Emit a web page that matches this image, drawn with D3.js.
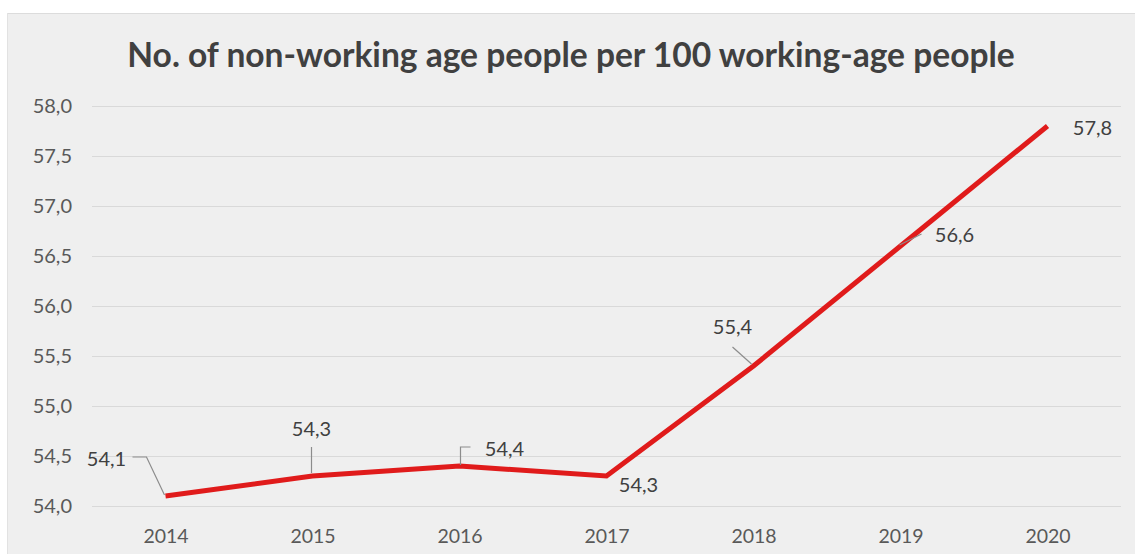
<!DOCTYPE html>
<html>
<head>
<meta charset="utf-8">
<script src="https://cdn.jsdelivr.net/npm/d3@7"></script>
<style>
  html, body { margin: 0; padding: 0; background: #ffffff; }
  svg { display: block; }
</style>
</head>
<body>
<svg id="chart" width="1135" height="554"></svg>
<script>
// Dependency ratio by year
const years = ["2014", "2015", "2016", "2017", "2018", "2019", "2020"];
const values = [54.1, 54.3, 54.4, 54.3, 55.4, 56.6, 57.8];
const yTicks = [54.0, 54.5, 55.0, 55.5, 56.0, 56.5, 57.0, 57.5, 58.0];
const titleText = "No. of non-working age people per 100 working-age people";

// label placement relative to each point: text offset and leader-line path
const labelLayout = [
  { dx: -59, dy: -37, leader: [[-1, -1], [-19, -39], [-33, -39]] },
  { dx: -1,  dy: -47, leader: [[-1, -3], [-1, -29]] },
  { dx: 45,  dy: -17, leader: [[1, -1], [1, -19], [11, -19]] },
  { dx: 32,  dy: 9,   leader: null },
  { dx: -21, dy: -39, leader: [[-2, -2], [-21, -19]] },
  { dx: 54,  dy: -11, leader: [[-1, -1], [21, -12]] },
  { dx: 45,  dy: 2,   leader: null }
];

const svg = d3.select("#chart");
const W = 1135, H = 554;
const font = "Lato, 'Open Sans', sans-serif";

const comma = d3.formatLocale({ decimal: ",", thousands: " ", grouping: [3], currency: ["", ""] });
const fmt = comma.format(".1f");

// chart panel
svg.append("rect").attr("x", 7).attr("y", 13).attr("width", W - 7).attr("height", H - 13)
  .attr("fill", "#efefef");
svg.append("line").attr("x1", 7).attr("x2", W).attr("y1", 13.5).attr("y2", 13.5)
  .attr("stroke", "#dcdcdc").attr("stroke-width", 1);
svg.append("line").attr("x1", 7.5).attr("x2", 7.5).attr("y1", 13).attr("y2", H)
  .attr("stroke", "#e2e2e2").attr("stroke-width", 1);

const x = d3.scalePoint().domain(years).range([92, 1121]).padding(0.5);
const y = d3.scaleLinear().domain([54, 58]).range([506, 106]);

// gridlines + y axis labels
const yAxis = d3.axisLeft(y).tickValues(yTicks).tickSize(-(1121 - 92)).tickFormat(fmt);
const gy = svg.append("g").attr("transform", "translate(92,0)").call(yAxis);
gy.select(".domain").remove();
gy.selectAll(".tick line").attr("stroke", "#d9d9d9").attr("stroke-width", 1);
gy.selectAll(".tick text").attr("fill", "#595959").attr("font-family", font)
  .attr("font-size", 20).attr("x", -20);

// x axis labels
const xAxis = d3.axisBottom(x).tickSize(0).tickPadding(0);
const gx = svg.append("g").attr("transform", "translate(0,506)").call(xAxis);
gx.select(".domain").remove();
gx.selectAll(".tick text").attr("fill", "#595959").attr("font-family", font)
  .attr("font-size", 19.5).attr("dy", 0).attr("y", 37);

// title
const title = svg.append("text").attr("x", 571).attr("y", 67).attr("text-anchor", "middle")
  .attr("font-family", font).attr("font-weight", 700).attr("font-size", 30)
  .attr("fill", "#404040").text(titleText);
const tw = title.node().getComputedTextLength();
title.attr("font-size", 30 * 888 / tw);

// series line
const pts = years.map((yr, i) => ({ yr, v: values[i], px: x(yr), py: y(values[i]) }));
svg.append("path").datum(pts)
  .attr("d", d3.line().x(d => d.px).y(d => d.py))
  .attr("fill", "none").attr("stroke", "#e01b1b").attr("stroke-width", 5)
  .attr("stroke-linejoin", "miter").attr("stroke-linecap", "butt");

// leader lines
pts.forEach((p, i) => {
  const L = labelLayout[i];
  if (!L.leader) return;
  svg.append("path")
    .attr("d", d3.line()(L.leader.map(([a, b]) => [p.px + a, p.py + b])))
    .attr("fill", "none").attr("stroke", "#8c8c8c").attr("stroke-width", 1.2);
});

// data labels
svg.append("g").selectAll("text").data(pts).join("text")
  .attr("x", (d, i) => d.px + labelLayout[i].dx)
  .attr("y", (d, i) => d.py + labelLayout[i].dy)
  .attr("dy", "0.35em")
  .attr("text-anchor", "middle")
  .attr("font-family", font).attr("font-size", 20)
  .attr("fill", "#404040")
  .text(d => fmt(d.v));
</script>
</body>
</html>
